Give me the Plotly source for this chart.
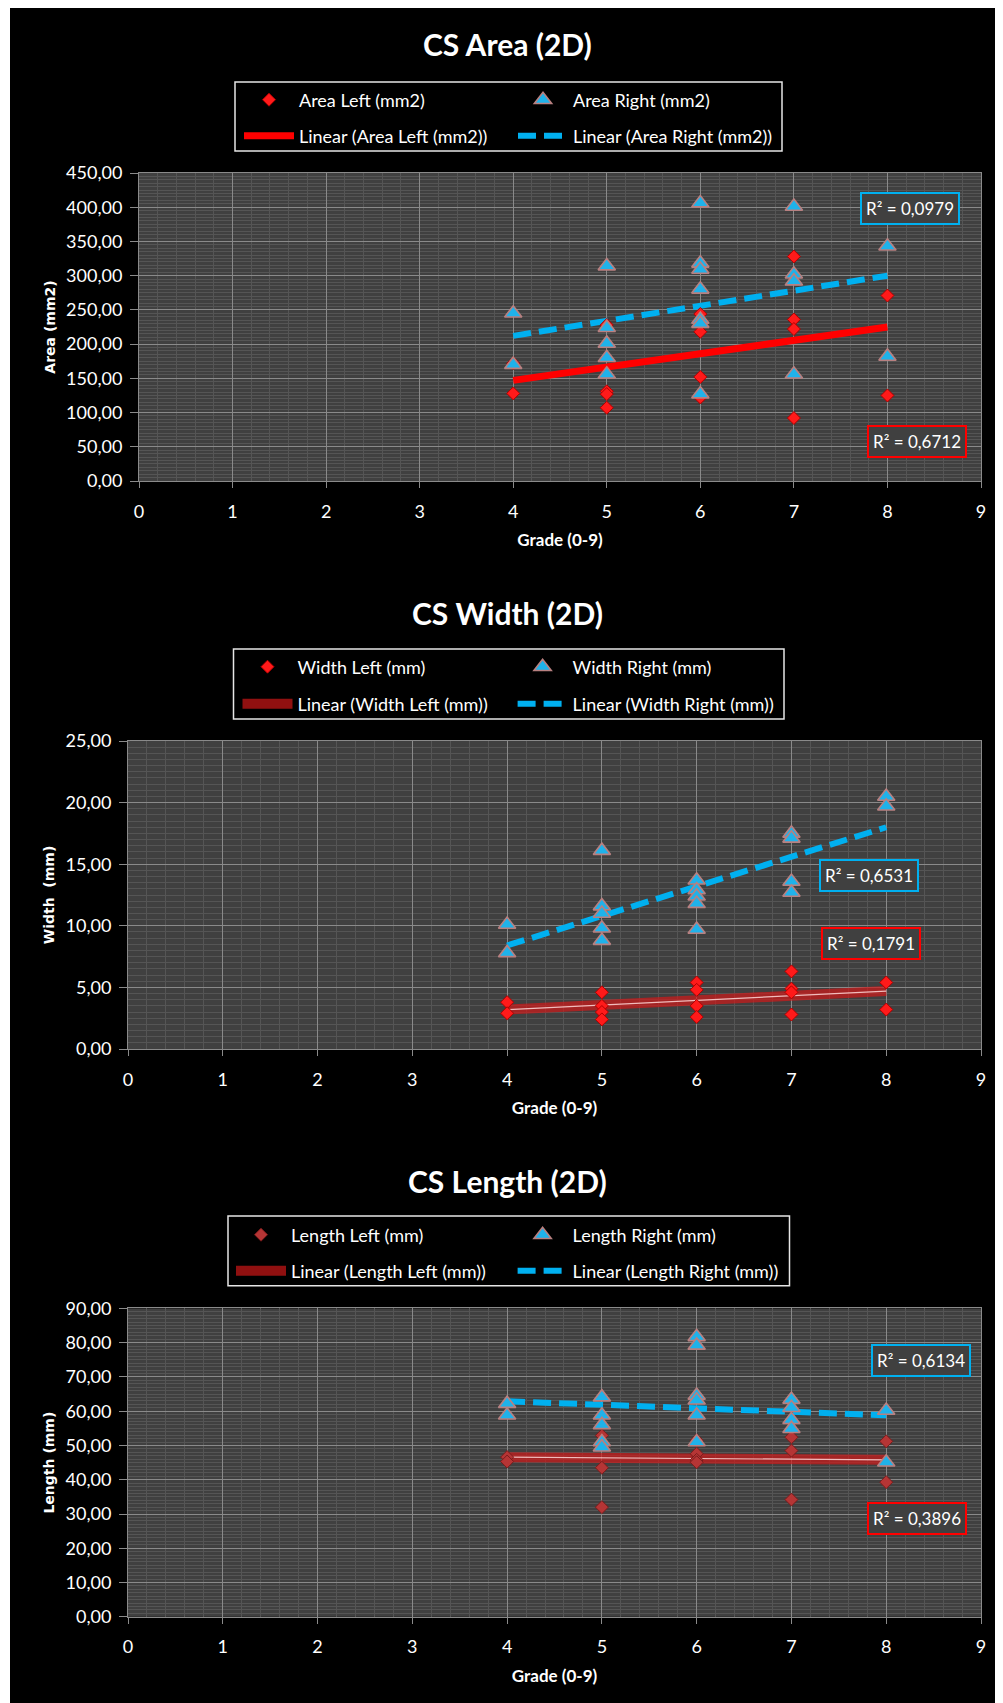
import plotly.graph_objects as go

# ---------------- data ----------------
grade_ticks = [0, 1, 2, 3, 4, 5, 6, 7, 8, 9]
trend_grades = [4, 8]

area_left_grade = [4, 4, 5, 5, 5, 5, 6, 6, 6, 6, 7, 7, 7, 7, 8, 8]
area_left_mm2 = [128, 172, 228, 131, 127, 107, 244, 218, 152, 122, 328, 236, 222, 92, 271, 125]
area_right_grade = [4, 4, 5, 5, 5, 5, 5, 6, 6, 6, 6, 6, 6, 6, 7, 7, 7, 7, 8, 8]
area_right_mm2 = [245, 170, 314, 224, 201, 180, 156, 406, 318, 309, 280, 236, 230, 127, 401, 302, 292, 156, 343, 182]
area_left_trend = [147, 225]
area_right_trend = [212, 300]
area_r2_left = "0,6712"
area_r2_right = "0,0979"

width_left_grade = [4, 4, 5, 5, 5, 5, 6, 6, 6, 6, 7, 7, 7, 7, 8, 8]
width_left_mm = [3.8, 2.9, 4.6, 3.5, 3.0, 2.4, 5.4, 4.8, 3.5, 2.6, 6.3, 4.9, 4.6, 2.8, 5.4, 3.2]
width_right_grade = [4, 4, 5, 5, 5, 5, 5, 6, 6, 6, 6, 6, 7, 7, 7, 7, 8, 8]
width_right_mm = [10.1, 7.8, 16.1, 11.6, 11.0, 9.8, 8.8, 13.7, 12.9, 12.4, 11.8, 9.7, 17.5, 17.1, 13.6, 12.7, 20.5, 19.7]
width_left_trend = [3.2, 4.7]
width_right_trend = [8.4, 18.0]
width_r2_left = "0,1791"
width_r2_right = "0,6531"

length_left_grade = [4, 4, 5, 5, 5, 6, 6, 6, 6, 7, 7, 7, 8, 8]
length_left_mm = [46.6, 45.3, 52.9, 43.5, 32.0, 51.5, 47.6, 45.8, 45.1, 52.4, 48.5, 34.2, 51.2, 39.3]
length_right_grade = [4, 4, 5, 5, 5, 5, 5, 6, 6, 6, 6, 6, 6, 7, 7, 7, 7, 8, 8]
length_right_mm = [62.2, 58.8, 64.1, 58.8, 56.0, 51.0, 49.5, 81.7, 79.2, 64.6, 63.2, 58.8, 51.0, 63.4, 61.0, 57.5, 54.9, 60.2, 45.1]
length_left_trend = [46.6, 45.8]
length_right_trend = [62.9, 58.8]
length_r2_left = "0,3896"
length_r2_right = "0,6134"

# ---------------- layout helpers ----------------
# The page body has an 8px margin, so the figure starts at (8, 8) of the window.
OFF = 8
W, H = 1003 - OFF, 1703 - OFF


def fx(p):
    return (p - OFF) / W


def fy(p):
    return 1 - (p - OFF) / H


FONT = "Lato"
BLUE = "#1FB2EA"
TRI_EDGE = "#B88080"
GRID = "#8A8A8A"
MINOR = "#555555"
PLOT_BG = "#404040"

charts = [
    dict(title="CS Area (2D)", title_xy=(508, 44), ytitle="Area (mm2)",
         xs=(139, 981), ys=(173, 481), yrange=[0, 450], dtick=50,
         lx=area_left_grade, ly=area_left_mm2, rx=area_right_grade, ry=area_right_mm2,
         lt=area_left_trend, rt=area_right_trend, r2l=area_r2_left, r2r=area_r2_right,
         names=("Area Left (mm2)", "Area Right (mm2)"),
         rows=(100, 136), cols=(299, 573), box=(235, 82, 782, 151),
         r2_blue=(910, 208.8), r2_red=(916.7, 441.2), bright=True),
    dict(title="CS Width (2D)", title_xy=(508, 612.5), ytitle="Width  (mm)",
         xs=(128, 981), ys=(741, 1049), yrange=[0, 25], dtick=5,
         lx=width_left_grade, ly=width_left_mm, rx=width_right_grade, ry=width_right_mm,
         lt=width_left_trend, rt=width_right_trend, r2l=width_r2_left, r2r=width_r2_right,
         names=("Width Left (mm)", "Width Right (mm)"),
         rows=(667, 704), cols=(297.5, 572.6), box=(233.5, 649, 784, 719),
         r2_blue=(868.5, 875.5), r2_red=(870.5, 943.3), bright=False),
    dict(title="CS Length (2D)", title_xy=(507.6, 1181), ytitle="Length (mm)",
         xs=(128, 981), ys=(1308.4, 1616.8), yrange=[0, 90], dtick=10,
         lx=length_left_grade, ly=length_left_mm, rx=length_right_grade, ry=length_right_mm,
         lt=length_left_trend, rt=length_right_trend, r2l=length_r2_left, r2r=length_r2_right,
         names=("Length Left (mm)", "Length Right (mm)"),
         rows=(1235, 1271), cols=(291, 572.6), box=(228, 1216, 789.5, 1285.7),
         r2_blue=(920.5, 1360.5), r2_red=(916.7, 1518.3), bright=False),
]

fig = go.Figure()
layout = dict(
    width=W, height=H, margin=dict(l=0, r=0, t=0, b=0),
    paper_bgcolor="black", plot_bgcolor=PLOT_BG, separators=",.",
    font=dict(family=FONT, color="white", size=18),
    showlegend=True,
)
annotations = []
shapes = [
    # thin white strip at the left edge of the picture
    dict(type="rect", xref="paper", yref="paper", x0=0, x1=fx(10), y0=0, y1=1,
         fillcolor="white", line=dict(width=0), layer="below"),
]

for i, c in enumerate(charts):
    k = "" if i == 0 else str(i + 1)
    xa, ya = "x" + k, "y" + k
    leg_a = "legend" if i == 0 else "legend" + str(2 * i + 1)
    leg_b = "legend" + str(2 * i + 2)
    left_name, right_name = c["names"]

    # trend lines (drawn under the markers)
    if c["bright"]:
        fig.add_trace(go.Scatter(
            x=trend_grades, y=c["lt"], mode="lines", name="Linear (" + left_name + ")",
            line=dict(color="#FF0000", width=7), xaxis=xa, yaxis=ya, legend=leg_b))
    else:
        fig.add_trace(go.Scatter(
            x=trend_grades, y=c["lt"], mode="lines", name="Linear (" + left_name + ")",
            line=dict(color="rgba(212,24,24,0.68)", width=10), xaxis=xa, yaxis=ya, legend=leg_b))
        fig.add_trace(go.Scatter(
            x=trend_grades, y=c["lt"], mode="lines", showlegend=False, hoverinfo="skip",
            line=dict(color="rgba(255,215,215,0.85)", width=1.2), xaxis=xa, yaxis=ya))
    fig.add_trace(go.Scatter(
        x=trend_grades, y=c["rt"], mode="lines", name="Linear (" + right_name + ")",
        line=dict(color="#00B0F0", width=6, dash="18px,8px"), xaxis=xa, yaxis=ya, legend=leg_b))

    # markers
    if c["bright"] or i == 1:
        dfill, dedge = "#FF1A1A", "#B00000"
    else:
        dfill, dedge = "#B53535", "#7A1C1C"
    fig.add_trace(go.Scatter(
        x=c["lx"], y=c["ly"], mode="markers", name=left_name,
        marker=dict(symbol="diamond", size=10, color=dfill, line=dict(color=dedge, width=1)),
        xaxis=xa, yaxis=ya, legend=leg_a))
    fig.add_trace(go.Scatter(
        x=c["rx"], y=c["ry"], mode="markers", name=right_name,
        marker=dict(symbol="triangle-up", size=15, color=BLUE, line=dict(color=TRI_EDGE, width=1.6)),
        xaxis=xa, yaxis=ya, legend=leg_a))

    # axes
    layout["xaxis" + k] = dict(
        domain=[fx(c["xs"][0]), fx(c["xs"][1])], anchor=ya,
        range=[0, 9], tickmode="array", tickvals=grade_ticks, ticktext=[str(g) for g in grade_ticks],
        showgrid=True, gridcolor=GRID, gridwidth=1, zeroline=False,
        minor=dict(dtick=0.2, tick0=0, showgrid=True, gridcolor=MINOR, gridwidth=1),
        showline=True, linecolor=GRID, linewidth=1, mirror=True,
        ticks="outside", ticklen=6, tickcolor=GRID, ticklabelstandoff=8,
        tickfont=dict(family=FONT, size=18, color="white"),
        title=dict(text="Grade (0-9)", font=dict(family=FONT, size=17, color="white", weight="bold"), standoff=13),
        automargin=False, fixedrange=True,
    )
    layout["yaxis" + k] = dict(
        domain=[fy(c["ys"][1]), fy(c["ys"][0])], anchor=xa,
        range=c["yrange"], dtick=c["dtick"], tick0=0, tickformat=".2f",
        showgrid=True, gridcolor=GRID, gridwidth=1, zeroline=False,
        minor=dict(dtick=c["dtick"] / 10, tick0=0, showgrid=True, gridcolor=MINOR, gridwidth=1),
        showline=True, linecolor=GRID, linewidth=1, mirror=True,
        ticks="outside", ticklen=8, tickcolor=GRID, ticklabelstandoff=4,
        tickfont=dict(family=FONT, size=18, color="white"),
        title=dict(text=c["ytitle"], font=dict(family="DejaVu Sans", size=14, color="white", weight="bold"), standoff=7),
        automargin=False, fixedrange=True,
    )

    # legends: one row each, boxed by a shape
    ew = c["cols"][1] - c["cols"][0] - 5 - 60
    for lg, row in ((leg_a, c["rows"][0]), (leg_b, c["rows"][1])):
        layout[lg] = dict(
            x=fx(c["cols"][0] - 60), xanchor="left", y=fy(row), yanchor="middle",
            orientation="h", entrywidth=ew, entrywidthmode="pixels", itemwidth=50,
            bgcolor="rgba(0,0,0,0)", borderwidth=0,
            font=dict(family=FONT, size=18, color="white"),
            tracegroupgap=0,
        )
    b = c["box"]
    shapes.append(dict(type="rect", xref="paper", yref="paper",
                       x0=fx(b[0]), x1=fx(b[2]), y0=fy(b[3]), y1=fy(b[1]),
                       line=dict(color="#E6E6E6", width=1.5), fillcolor="rgba(0,0,0,0)"))

    # chart title
    annotations.append(dict(text="<b>" + c["title"] + "</b>", xref="paper", yref="paper",
                            x=fx(c["title_xy"][0]), y=fy(c["title_xy"][1]),
                            xanchor="center", yanchor="middle", showarrow=False,
                            font=dict(family=FONT, size=30, color="white")))
    # R² labels
    for text, pos, col in ((c["r2r"], c["r2_blue"], "#00B0F0"), (c["r2l"], c["r2_red"], "#FF0000")):
        annotations.append(dict(text="R² = " + text, xref="paper", yref="paper",
                                x=fx(pos[0]), y=fy(pos[1]), xanchor="center", yanchor="middle",
                                showarrow=False, bordercolor=col, borderwidth=2, borderpad=4,
                                bgcolor=PLOT_BG,
                                font=dict(family=FONT, size=17, color="white")))

layout["annotations"] = annotations
layout["shapes"] = shapes
fig.update_layout(**layout)
fig.write_html("out.html")
